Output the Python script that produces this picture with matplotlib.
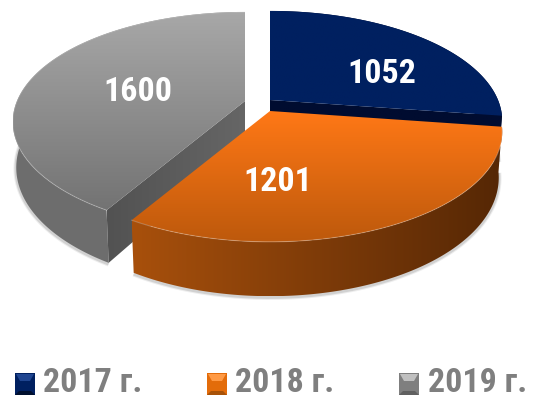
import numpy as np
import matplotlib
matplotlib.use('Agg')
import matplotlib.pyplot as plt
from matplotlib.colors import LinearSegmentedColormap
from matplotlib.patches import Polygon

values = [1052, 1201, 1600]
years = ['2017 г.', '2018 г.', '2019 г.']

plt.rcParams['font.family'] = ['Roboto Condensed', 'PT Sans Narrow', 'Liberation Sans', 'DejaVu Sans']

# perspective of the pie, in pixels
rx, ry, p = 228, 106, 0.19
depth, shrink = 44, 0.985
centres = [(270, 100), (270, 111), (245, 101)]
top_cols = [('#002060', '#002060'), ('#ff7816', '#bd590c'), ('#a8a8a8', '#737373')]
side_cols = [('#000c30', '#000c30'), ('#a8500c', '#552705'), ('#6e6e6e', '#6c6c6c')]
label_pos = [(382, 74), (278, 182), (138, 92)]

fig = plt.figure(figsize=(5.44, 4), dpi=100)
ax = fig.add_axes([0, 0, 1, 1])
ax.set_xlim(0, 544)
ax.set_ylim(400, 0)
ax.axis('off')
ax.set_autoscale_on(False)


def proj(theta, cx, cy):
    t = np.radians(theta)
    s = 1 / (1 + p * np.cos(t))
    return cx + rx * np.sin(t) * s, cy - ry * np.cos(t) * s, s


def lower(theta, cx, cy):
    x, y, s = proj(theta, cx, cy)
    return cx + (x - cx) * shrink, y + depth * s


def fill_grad(pts, cols, vertical, z):
    pts = np.array(pts)
    x0, y0 = pts.min(axis=0)
    x1, y1 = pts.max(axis=0)
    cmap = LinearSegmentedColormap.from_list('g', cols)
    g = np.linspace(0, 1, 256)
    g = g[:, None] if vertical else g[None, :]
    im = ax.imshow(g, cmap=cmap, extent=(x0, x1, y1, y0), origin='upper',
                   aspect='auto', zorder=z, interpolation='bilinear')
    patch = Polygon(pts, closed=True, transform=ax.transData, fc='none', ec='none')
    ax.add_patch(patch)
    im.set_clip_path(patch)


edges = np.concatenate([[0], np.cumsum(values)]) / sum(values) * 360
# blue first, then grey, orange stays on top
for i, z in [(0, 2), (2, 3), (1, 4)]:
    cx, cy = centres[i]
    a, b = edges[i], edges[i + 1]
    th = np.linspace(a, b, 200)
    xt, yt, _ = proj(th, cx, cy)
    xb, yb = lower(th, cx, cy)
    # soft shadow along the lower rim
    for lw, al in [(4, 0.10), (2.5, 0.18)]:
        ax.plot(xb, yb + 1, color='#555555', lw=lw, alpha=al, zorder=z, solid_capstyle='butt')
    side = list(zip(xt, yt)) + list(zip(xb[::-1], yb[::-1]))
    fill_grad(side, side_cols[i], False, z)
    # cut faces that can be seen
    if i == 0:
        ex, ey = xt[-1], yt[-1]
        fx, fy = xb[-1], yb[-1]
        face = [(cx, cy), (ex, ey), (fx, fy), (cx, cy + depth)]
        fill_grad(face, side_cols[0], False, z)
    if i == 2:
        ex, ey = xt[0], yt[0]
        fx, fy = xb[0], yb[0]
        face = [(cx, cy), (ex, ey), (fx, fy), (cx, cy + depth)]
        fill_grad(face, ['#525252', '#666666'], False, z + 0.1)
    top = [(cx, cy)] + list(zip(xt, yt))
    fill_grad(top, top_cols[i], True, z + 0.2)
    if i > 0:
        ax.plot(xt, yt, color='white', lw=0.8, alpha=0.22, zorder=z + 0.3)
    ax.text(*label_pos[i], str(values[i]), color='white', fontsize=24.5, fontweight='bold',
            ha='center', va='center', zorder=10)

# legend
swatch_x = [15, 207, 399]
text_x = [43, 235, 428]
sw_cols = [('#002060', '#1f4590', '#00102f'), ('#e36c0a', '#ff9a45', '#a85208'),
           ('#7f7f7f', '#c0c0c0', '#606060')]
for i in range(3):
    x0, x1, y0, y1 = swatch_x[i], swatch_x[i] + 20, 373, 395
    base, light, dark = sw_cols[i]
    ax.add_patch(Polygon([(x0, y0), (x1, y0), (x1, y1), (x0, y1)], fc=base, ec='none', zorder=5))
    ax.add_patch(Polygon([(x0 + 1, y0 + 1), (x1 - 1, y0 + 1), (x1 - 5, y0 + 8), (x0 + 5, y0 + 8)], fc=light, ec='none', zorder=6))
    ax.add_patch(Polygon([(x0, y1), (x1, y1), (x1 - 4, y1 - 4), (x0 + 4, y1 - 4)], fc=dark, ec='none', zorder=6))
    ax.text(text_x[i], 392.5, years[i], color='#7f7f7f', fontsize=24.5, fontweight='bold',
            ha='left', va='baseline', zorder=10)

fig.savefig('out.png', dpi=100)
